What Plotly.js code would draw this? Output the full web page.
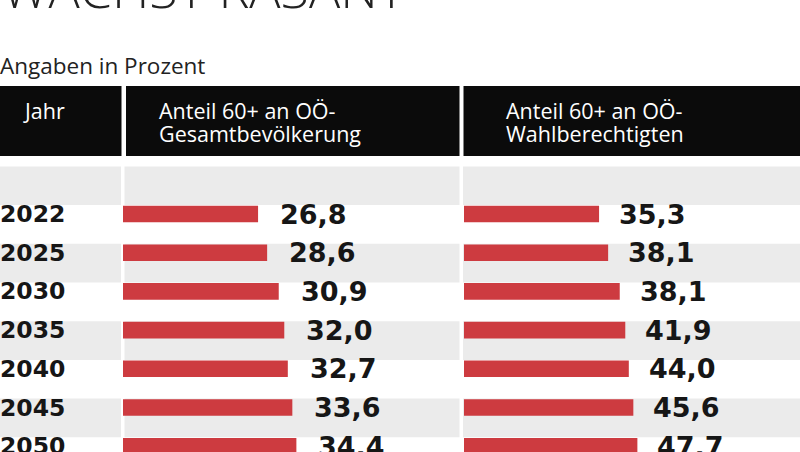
<!DOCTYPE html>
<html>
<head>
<meta charset="utf-8">
<script src="https://cdn.plot.ly/plotly-3.0.1.min.js"></script>
<style>
  body { margin: 0; background: #fff; }
  #chart { width: 800px; height: 452px; }
</style>
</head>
<body>
<div id="chart"></div>
<script>
var years = ["2022", "2025", "2030", "2035", "2040", "2045", "2050"];
var shareTotal = [26.8, 28.6, 30.9, 32.0, 32.7, 33.6, 34.4];   // Anteil 60+ an Gesamtbevoelkerung
var shareVoters = [35.3, 38.1, 38.1, 41.9, 44.0, 45.6, 47.7];  // Anteil 60+ an Wahlberechtigten
var headerLeft = ["Anteil 60+ an OÖ-", "Gesamtbevölkerung"];
var headerRight = ["Anteil 60+ an OÖ-", "Wahlberechtigten"];

var W = 800, H = 452;
var PX_PER_UNIT = 5.04;   // bar scale
var ROW = 38.7;           // row pitch in px
var FIRST_ROW = 214;      // px centre of first row

function px(x) { return x / W; }
function py(y) { return 1 - y / H; }
function fmt(v) { return v.toFixed(1).replace(".", ","); }

var rows = years.map(function (y, i) { return i; });

// in the original graphic the right bars reuse the lengths of the left bars
var traces = [
    {
        type: "bar", orientation: "h",
        x: shareTotal, y: rows,
        xaxis: "x", yaxis: "y",
        width: 0.43,
        marker: { color: "#cd3b40" },
        hoverinfo: "skip"
    },
    {
        type: "bar", orientation: "h",
        x: shareTotal, y: rows,
        xaxis: "x2", yaxis: "y",
        width: 0.43,
        marker: { color: "#cd3b40" },
        hoverinfo: "skip"
    }
];

var shapes = [];
// black header boxes
[[0, 121.5], [126, 459.5], [463.5, 800]].forEach(function (s) {
    shapes.push({
        type: "rect", xref: "paper", yref: "paper",
        x0: px(s[0]), x1: px(s[1]), y0: py(156), y1: py(86),
        fillcolor: "#0b0b0b", line: { width: 0 }, layer: "below"
    });
});
// grey row bands (empty row above 2022, then every second row)
[-1, 1, 3, 5].forEach(function (k) {
    [[0, 121], [124.5, 459.5], [463, 800]].forEach(function (s) {
        shapes.push({
            type: "rect", xref: "paper", yref: "y",
            x0: px(s[0]), x1: px(s[1]), y0: k - 0.23, y1: k + 0.77,
            fillcolor: "#ebebeb", line: { width: 0 }, layer: "below"
        });
    });
});

var annotations = [];
function addText(text, x, y, font) {
    annotations.push({
        text: text, showarrow: false,
        xref: "paper", yref: "paper",
        x: px(x), y: py(y),
        xanchor: "left", yanchor: "middle",
        font: font
    });
}

var headFont = { family: "Open Sans", size: 21.5, color: "#fff" };
addText("WÄCHST RASANT", 0, -12, { family: "Open Sans", size: 52, weight: 300, color: "#222" });
addText("Angaben in Prozent", -2, 65, { family: "Open Sans", size: 22.5, color: "#222" });
addText("Jahr", 21, 110, headFont);
addText(headerLeft[0], 157, 110, headFont);
addText(headerLeft[1], 157, 133, headFont);
addText(headerRight[0], 504, 110, headFont);
addText(headerRight[1], 504, 133, headFont);

var valueFont = { family: "DejaVu Sans", size: 27, weight: 700, color: "#161616" };
years.forEach(function (yr, i) {
    annotations.push({
        text: yr, showarrow: false,
        xref: "paper", yref: "y", x: 0, y: i,
        xanchor: "left", yanchor: "middle", xshift: -2,
        font: { family: "DejaVu Sans", size: 23.5, weight: 700, color: "#161616" }
    });
    annotations.push({
        text: fmt(shareTotal[i]), showarrow: false,
        xref: "x", yref: "y", x: shareTotal[i], y: i,
        xanchor: "left", yanchor: "middle", xshift: 20,
        font: valueFont
    });
    annotations.push({
        text: fmt(shareVoters[i]), showarrow: false,
        xref: "x2", yref: "y", x: shareTotal[i], y: i,
        xanchor: "left", yanchor: "middle", xshift: 18,
        font: valueFont
    });
});

var layout = {
    width: W, height: H,
    margin: { l: 0, r: 0, t: 0, b: 0 },
    paper_bgcolor: "#fff",
    plot_bgcolor: "rgba(0,0,0,0)",
    showlegend: false,
    xaxis: {
        domain: [px(123), px(461)], range: [0, 338 / PX_PER_UNIT],
        visible: false, fixedrange: true
    },
    xaxis2: {
        domain: [px(464), 1], range: [0, 336 / PX_PER_UNIT],
        anchor: "y", visible: false, fixedrange: true
    },
    yaxis: {
        range: [(H - FIRST_ROW) / ROW, -FIRST_ROW / ROW],
        visible: false, fixedrange: true
    },
    shapes: shapes,
    annotations: annotations
};

Plotly.newPlot("chart", traces, layout, { staticPlot: true, displayModeBar: false });
</script>
</body>
</html>
